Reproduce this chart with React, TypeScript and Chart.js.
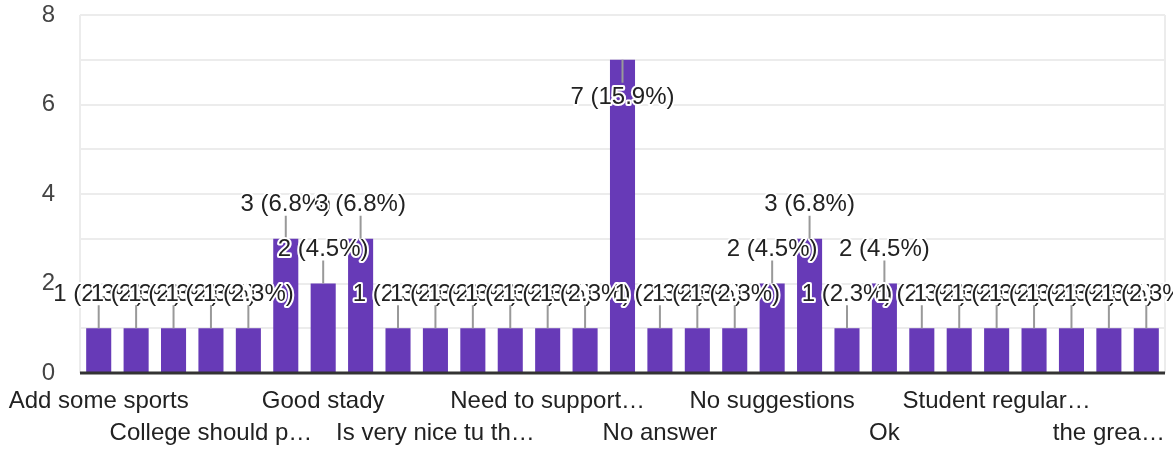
import React, { useEffect, useRef } from "react";
import { Chart, registerables } from "chart.js";

Chart.register(...registerables);

// Response categories (alphabetical, as in the form summary). Only every third label is shown on the axis.
const categories: string[] = [
  "Add some sports",
  "All good",
  "Best college",
  "College should p…",
  "Everything is good",
  "Good",
  "Good stady",
  "Good teachers",
  "Improve library",
  "Is very nice tu th…",
  "It's good",
  "Library facility",
  "Need to support…",
  "Nice",
  "No",
  "No answer",
  "No comment",
  "No idea",
  "No suggestions",
  "Nothing",
  "Nothing to say",
  "Ok",
  "Overall good",
  "Sports facilities",
  "Student regular…",
  "Teaching is good",
  "Thank you",
  "the grea…",
  "Very good",
];

const counts: number[] = [
  1, 1, 1, 1, 1, 3, 2, 3, 1, 1, 1, 1, 1, 1, 7, 1, 1, 1, 2, 3, 1, 2, 1, 1, 1, 1, 1, 1, 1,
];

const yTickLabels: number[] = [0, 2, 4, 6, 8];

const FONT = 'Arial, "Liberation Sans", sans-serif';
const BAR_COLOR = "#673ab7";

const zeroPadding = (s: any) => {
  s.paddingTop = 0;
  s.paddingBottom = 0;
  s.paddingLeft = 0;
  s.paddingRight = 0;
};

const annotationPlugin = {
  id: "formAnnotations",
  beforeDatasetsDraw(chart: any) {
    const { ctx, chartArea: a } = chart;
    ctx.save();
    ctx.strokeStyle = "#ececec";
    ctx.lineWidth = 2;
    ctx.beginPath();
    ctx.moveTo(a.left, a.top);
    ctx.lineTo(a.left, a.bottom);
    ctx.moveTo(a.right, a.top);
    ctx.lineTo(a.right, a.bottom);
    ctx.stroke();
    ctx.restore();
  },
  afterDatasetsDraw(chart: any) {
    const { ctx, chartArea: a } = chart;
    const y0 = chart.scales.y.getPixelForValue(0);
    ctx.save();
    ctx.strokeStyle = "#333333";
    ctx.lineWidth = 3;
    ctx.beginPath();
    ctx.moveTo(a.left, y0);
    ctx.lineTo(a.right, y0);
    ctx.stroke();

    const total = counts.reduce((s, v) => s + v, 0);
    const meta = chart.getDatasetMeta(0);
    ctx.font = `24px ${FONT}`;
    ctx.textAlign = "center";
    ctx.textBaseline = "middle";
    meta.data.forEach((bar: any, i: number) => {
      const { x, y } = bar.getProps(["x", "y"], true);
      const flip = y - 50 < a.top;
      const dir = flip ? 1 : -1;
      ctx.strokeStyle = "#999999";
      ctx.lineWidth = 2;
      ctx.beginPath();
      ctx.moveTo(x, y);
      ctx.lineTo(x, y + dir * 23);
      ctx.stroke();
      const ty = flip ? y + 38 : y - 34;
      const text = `${counts[i]} (${((counts[i] / total) * 100).toFixed(1)}%)`;
      ctx.lineJoin = "round";
      ctx.lineWidth = 4;
      ctx.strokeStyle = "#ffffff";
      ctx.strokeText(text, x, ty);
      ctx.fillStyle = "#222222";
      ctx.fillText(text, x, ty);
    });
    ctx.restore();
  },
};

export default function App() {
  const canvasRef = useRef<HTMLCanvasElement | null>(null);

  useEffect(() => {
    if (!canvasRef.current) return;
    const chart = new Chart(canvasRef.current, {
      type: "bar",
      data: {
        labels: categories,
        datasets: [
          {
            data: counts,
            backgroundColor: BAR_COLOR,
            borderWidth: 0,
            barPercentage: 1,
            categoryPercentage: 0.67,
          },
        ],
      },
      options: {
        responsive: false,
        animation: false,
        layout: { padding: { top: 15, right: 8, left: 0, bottom: 0 } },
        plugins: {
          legend: { display: false },
          tooltip: { enabled: false },
        },
        scales: {
          x: {
            grid: { display: false, drawTicks: false },
            border: { display: false },
            ticks: {
              autoSkip: false,
              maxRotation: 0,
              minRotation: 0,
              padding: 12,
              color: "#222222",
              font: { size: 24, family: FONT, lineHeight: 1.33 },
              callback: (_v: any, index: number) => {
                if (index % 3 !== 0) return "";
                const label = categories[index];
                return (index / 3) % 2 === 0 ? [label] : ["", label];
              },
            },
            afterFit: (s: any) => {
              s.height = 77;
              zeroPadding(s);
            },
          },
          y: {
            min: 0,
            max: 8,
            grid: { color: "#ececec", lineWidth: 2, drawTicks: false },
            border: { display: false },
            ticks: {
              stepSize: 1,
              padding: 25,
              color: "#444444",
              font: { size: 24, family: FONT },
              callback: (v: any) => (yTickLabels.includes(Number(v)) ? String(v) : ""),
            },
            afterFit: (s: any) => {
              s.width = 80;
              zeroPadding(s);
            },
          },
        },
      },
      plugins: [annotationPlugin],
    });
    return () => chart.destroy();
  }, []);

  return (
    <div style={{ position: "absolute", left: 0, top: 0, width: 1173, height: 450 }}>
      <canvas ref={canvasRef} width={1173} height={450} />
    </div>
  );
}
